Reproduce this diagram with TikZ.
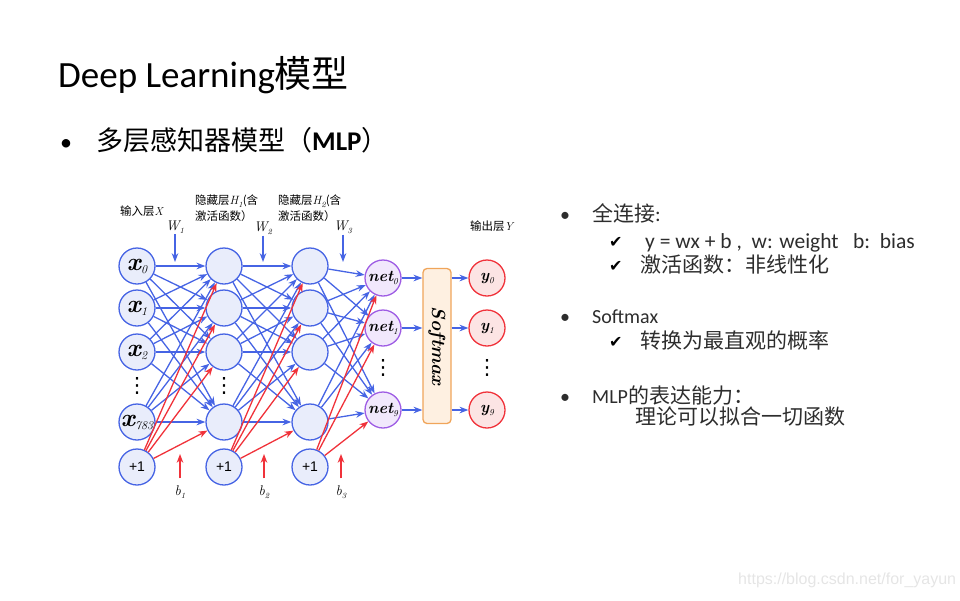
\documentclass[tikz,border=0pt]{standalone}
\usepackage{fontspec}
\usepackage{amsmath,amssymb}
\usetikzlibrary{positioning,arrows.meta,calc}
\newfontfamily\calfont{Carlito}
\newfontfamily\cjkfont{Noto Sans CJK SC}
\newfontfamily\symfont{DejaVu Sans}
\newfontfamily\arialfont{Liberation Sans}
% italic letter with a smaller italic index
\newcommand{\varsub}[4]{{\fontsize{#2}{#2}\selectfont #1}\raisebox{-0.3em}{\fontsize{#4}{#4}\selectfont\mdseries #3}}
\definecolor{nblue}{RGB}{70,100,228}
\definecolor{nfill}{RGB}{233,237,251}
\definecolor{nred}{RGB}{240,50,58}
\definecolor{rfill}{RGB}{252,228,228}
\definecolor{npurple}{RGB}{158,92,228}
\definecolor{pfill}{RGB}{241,232,252}
\definecolor{sorange}{RGB}{240,165,90}
\definecolor{sfill}{RGB}{254,240,225}
\definecolor{txtgray}{RGB}{45,45,45}

\begin{document}
\begin{tikzpicture}[
  x=1pt, y=-1pt,
  >=Stealth,
  neuron/.style={circle, draw=nblue, fill=nfill, line width=1.3pt, minimum size=36pt, inner sep=0pt},
  innode/.style={neuron, font=\bfseries\itshape},
  biasnode/.style={neuron, font=\arialfont\fontsize{14}{14}\selectfont},
  netnode/.style={neuron, draw=npurple, fill=pfill, font=\bfseries\itshape},
  outnode/.style={neuron, draw=nred, fill=rfill, font=\bfseries\itshape},
  wmap/.style={->, draw=nblue, line width=1.3pt},
  bmap/.style={->, draw=nred, line width=1.3pt},
  layerlab/.style={anchor=west, inner sep=0pt, align=left, font=\fontsize{11.5}{16}\selectfont},
  wlab/.style={inner sep=1pt, font=\itshape},
  textline/.style={anchor=base west, inner sep=0pt, text=txtgray, font=\fontsize{21}{21}\selectfont},
  checkmark/.style={anchor=base west, inner sep=0pt, text=black, font=\symfont\fontsize{16}{16}\selectfont},
  bulletmark/.style={anchor=base west, inner sep=0pt, text=txtgray, font=\calfont\fontsize{20}{20}\selectfont},
  vdotsnode/.style={inner sep=0pt, font=\symfont\fontsize{21}{21}\selectfont}
]
  \useasboundingbox (0,0) rectangle (960,600);

  % title
  \node[anchor=base west, inner sep=0pt, font=\fontsize{37}{37}\selectfont] (title) at (58,87) {{\calfont Deep Learning}{\cjkfont 模型}};
  \node[bulletmark, text=black, font=\calfont\fontsize{24}{24}\selectfont] (dot0) at (60,150) {•};
  \node[anchor=base west, inner sep=0pt, font=\fontsize{27}{27}\selectfont] (subtitle) at (96,150) {{\cjkfont 多层感知器模型（}{\calfont\bfseries MLP}{\cjkfont ）}};

  % input layer
  \node[innode] (i0) at (137,266) {\varsub{x}{25}{0}{12}};
  \node[innode] (i1) at (137,308) {\varsub{x}{25}{1}{12}};
  \node[innode] (i2) at (137,352) {\varsub{x}{25}{2}{12}};
  \node[innode] (i3) at (137,422) {\varsub{x}{25}{783}{12}};
  \node[biasnode] (ib) at (137,467) {+1};
  \node[vdotsnode] (id) at (137,386) {⋮};

  % hidden layer 1
  \node[neuron] (a0) at (224,266) {};
  \node[neuron] (a1) at (224,308) {};
  \node[neuron] (a2) at (224,352) {};
  \node[neuron] (a3) at (224,422) {};
  \node[biasnode] (ab) at (224,467) {+1};
  \node[vdotsnode] (ad) at (224,386) {⋮};

  % hidden layer 2
  \node[neuron] (c0) at (310,266) {};
  \node[neuron] (c1) at (310,308) {};
  \node[neuron] (c2) at (310,352) {};
  \node[neuron] (c3) at (310,422) {};
  \node[biasnode] (cb) at (310,467) {+1};

  % net layer, softmax, output
  \node[netnode] (n0) at (383,278) {\varsub{net}{16}{0}{9}};
  \node[netnode] (n1) at (383,328) {\varsub{net}{16}{1}{9}};
  \node[netnode] (n9) at (383,410) {\varsub{net}{16}{9}{9}};
  \node[vdotsnode] (nd) at (383,368) {⋮};
  \node[draw=sorange, fill=sfill, line width=1.3pt, rounded corners=4pt, minimum width=28pt, minimum height=155pt, inner sep=0pt] (sm) at (437,346) {};
  \node[rotate=-90, inner sep=0pt, font=\fontsize{19}{19}\selectfont\bfseries\itshape] (smlab) at (sm.center) {Softmax};
  \node[outnode] (y0) at (487,278) {\varsub{y}{16}{0}{9}};
  \node[outnode] (y1) at (487,328) {\varsub{y}{16}{1}{9}};
  \node[outnode] (y9) at (487,410) {\varsub{y}{16}{9}{9}};
  \node[vdotsnode] (yd) at (487,368) {⋮};

  % weights
  \foreach \s in {i0,i1,i2,i3} \foreach \t in {a0,a1,a2,a3} \draw[wmap] (\s) -- (\t);
  \foreach \s in {a0,a1,a2,a3} \foreach \t in {c0,c1,c2,c3} \draw[wmap] (\s) -- (\t);
  \foreach \s in {c0,c1,c2,c3} \foreach \t in {n0,n1,n9} \draw[wmap] (\s) -- (\t);
  % biases
  \foreach \t in {a0,a1,a2,a3} \draw[bmap] (ib) -- (\t);
  \foreach \t in {c0,c1,c2,c3} \draw[bmap] (ab) -- (\t);
  \foreach \t in {n0,n1,n9} \draw[bmap] (cb) -- (\t);
  % softmax in and out
  \foreach \n/\y in {n0/y0,n1/y1,n9/y9} {
    \draw[wmap] (\n) -- (\n -| sm.west);
    \draw[wmap] (sm.east |- \y) -- (\y);
  }

  % layer labels
  \node[layerlab] (inlab) at (120,211) {{\cjkfont 输入层}{\itshape X}};
  \node[layerlab] (h1lab) at (195,208) {{\cjkfont 隐藏层}{\itshape\varsub{H}{12}{1}{8}}{\cjkfont (含}\\{\cjkfont 激活函数）}};
  \node[layerlab] (h2lab) at (278,208) {{\cjkfont 隐藏层}{\itshape\varsub{H}{12}{2}{8}}{\cjkfont (含}\\{\cjkfont 激活函数）}};
  \node[layerlab] (outlab) at (470,226) {{\cjkfont 输出层}{\itshape Y}};

  % W and b arrows
  \node[wlab] (w1) at (175,227) {\varsub{W}{14}{1}{8}};
  \node[wlab] (w2) at (263,228) {\varsub{W}{14}{2}{8}};
  \node[wlab] (w3) at (343,227) {\varsub{W}{14}{3}{8}};
  \coordinate (w1t) at (175,262);
  \coordinate (w2t) at (263,262);
  \coordinate (w3t) at (343,262);
  \draw[wmap] (w1) -- (w1t);
  \draw[wmap] (w2) -- (w2t);
  \draw[wmap] (w3) -- (w3t);
  \node[wlab] (b1) at (180,492) {\varsub{b}{14}{1}{8}};
  \node[wlab] (b2) at (264,492) {\varsub{b}{14}{2}{8}};
  \node[wlab] (b3) at (341,492) {\varsub{b}{14}{3}{8}};
  \coordinate (b1t) at (180,454);
  \coordinate (b2t) at (264,454);
  \coordinate (b3t) at (341,454);
  \draw[bmap, shorten <=6pt] (b1) -- (b1t);
  \draw[bmap, shorten <=6pt] (b2) -- (b2t);
  \draw[bmap, shorten <=6pt] (b3) -- (b3t);

  % notes on the right
  \node[bulletmark] (p1) at (560,221) {•};
  \node[textline] (t1) at (592,221) {{\cjkfont 全连接}{\calfont :}};
  \node[checkmark] (c1m) at (609,247) {✔};
  \node[textline, font=\calfont\fontsize{21.5}{21.5}\selectfont] (t2) at (645,248) {y = wx + b ,\ \ w: weight\ \ \ b:\ \ bias};
  \node[checkmark] (c2m) at (609,271) {✔};
  \node[textline] (t3) at (640,272) {\cjkfont 激活函数：非线性化};
  \node[bulletmark] (p2) at (560,323) {•};
  \node[textline, font=\calfont\fontsize{20}{20}\selectfont] (t4) at (592,323) {Softmax};
  \node[checkmark] (c3m) at (609,347) {✔};
  \node[textline] (t5) at (640,348) {\cjkfont 转换为最直观的概率};
  \node[bulletmark] (p3) at (560,403) {•};
  \node[textline] (t6) at (592,403) {{\calfont\fontsize{20}{20}\selectfont MLP}{\cjkfont 的表达能力：}};
  \node[textline] (t7) at (635,424) {\cjkfont 理论可以拟合一切函数};

  % watermark
  \node[anchor=west, inner sep=0pt, text=black!10, font=\arialfont\fontsize{16}{16}\selectfont] (mark) at (738,580) {https://blog.csdn.net/for\_yayun};
\end{tikzpicture}
\end{document}
